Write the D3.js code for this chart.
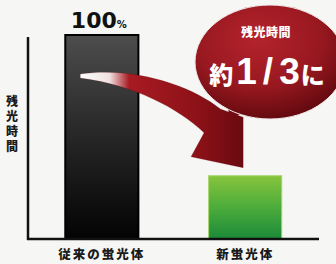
<!DOCTYPE html>
<html><head><meta charset="utf-8">
<script src="https://cdn.jsdelivr.net/npm/d3@7"></script>
<style>
html,body{margin:0;padding:0;background:#f6f6f4;}
svg{display:block;}
text{font-family:"Noto Sans CJK JP","Noto Sans",sans-serif;}
</style></head>
<body>
<script>
const categories = ["従来の蛍光体", "新蛍光体"];
const values = [100, 31];
const valueLabels = ["100", ""];
const yAxisLabel = "残光時間";
const bubbleTitle = "残光時間";
const bubbleMain = ["約", "1/3", "に"];

const W = 336, H = 264;
const svg = d3.select("body").append("svg").attr("width", W).attr("height", H);
svg.append("rect").attr("width", W).attr("height", H).attr("fill", "#f6f6f4");

const defs = svg.append("defs");
const g1 = defs.append("linearGradient").attr("id", "gBlack").attr("x1", 0).attr("y1", 0).attr("x2", 0).attr("y2", 1);
g1.append("stop").attr("offset", "0%").attr("stop-color", "#4d4d4d");
g1.append("stop").attr("offset", "45%").attr("stop-color", "#2a2a2a");
g1.append("stop").attr("offset", "100%").attr("stop-color", "#030303");
const g2 = defs.append("linearGradient").attr("id", "gGreen").attr("x1", 0).attr("y1", 0).attr("x2", 0).attr("y2", 1);
g2.append("stop").attr("offset", "0%").attr("stop-color", "#86c43c");
g2.append("stop").attr("offset", "50%").attr("stop-color", "#4cac3b");
g2.append("stop").attr("offset", "100%").attr("stop-color", "#1b8a38");
const gr = defs.append("radialGradient").attr("id", "gRed").attr("cx", "42%").attr("cy", "30%").attr("r", "70%");
gr.append("stop").attr("offset", "0%").attr("stop-color", "#b4232c");
gr.append("stop").attr("offset", "60%").attr("stop-color", "#981820");
gr.append("stop").attr("offset", "100%").attr("stop-color", "#650a10");
const ga = defs.append("linearGradient").attr("id", "gArrow").attr("x1", 0).attr("y1", 0).attr("x2", 1).attr("y2", 0);
ga.append("stop").attr("offset", "0%").attr("stop-color", "#ffffff");
ga.append("stop").attr("offset", "18%").attr("stop-color", "#f0e0e0");
ga.append("stop").attr("offset", "30%").attr("stop-color", "#a81a22");
ga.append("stop").attr("offset", "70%").attr("stop-color", "#8e1218");
ga.append("stop").attr("offset", "100%").attr("stop-color", "#6a0a10");

const x0 = 28, x1 = 319, yBase = 239, yTop = 35;
const x = d3.scaleBand().domain(categories).range([x0, x1]).paddingInner(0.49).paddingOuter(0.26);
const y = d3.scaleLinear().domain([0, 100]).range([yBase, yTop]);

// bars
const fills = ["url(#gBlack)", "url(#gGreen)"];
const strokes = ["#000", "#a6d46a"];
svg.selectAll("rect.bar").data(categories).enter().append("rect")
  .attr("class", "bar")
  .attr("x", d => x(d)).attr("width", x.bandwidth())
  .attr("y", (d, i) => y(values[i])).attr("height", (d, i) => yBase - y(values[i]))
  .attr("fill", (d, i) => fills[i])
  .attr("stroke", (d, i) => strokes[i]).attr("stroke-width", (d, i) => i === 0 ? 2 : 1);

// axes
svg.append("line").attr("x1", x0).attr("x2", x0).attr("y1", y(99)).attr("y2", yBase + 1)
  .attr("stroke", "#111").attr("stroke-width", 2.5);
svg.append("line").attr("x1", x0 - 1).attr("x2", x1).attr("y1", yBase).attr("y2", yBase)
  .attr("stroke", "#111").attr("stroke-width", 2.5);

// value label
const c0 = x(categories[0]) + x.bandwidth() / 2;
const vl = svg.append("text").attr("x", c0 - 3).attr("y", y(values[0]) - 7).attr("text-anchor", "middle")
  .style("font-family", "'DejaVu Sans',sans-serif").style("font-weight", 700).attr("fill", "#111");
vl.append("tspan").attr("font-size", 22).text(valueLabels[0]);
vl.append("tspan").attr("font-size", 10).text("%");

// category labels
svg.selectAll("text.cat").data(categories).enter().append("text")
  .attr("class", "cat")
  .attr("x", d => x(d) + x.bandwidth() / 2).attr("y", 259)
  .attr("text-anchor", "middle").attr("font-size", 12.5).attr("font-weight", 900)
  .attr("letter-spacing", 2).attr("fill", "#1a1a1a").text(d => d);

// y axis label (vertical)
svg.append("text").attr("x", 12).attr("y", 95)
  .style("writing-mode", "vertical-rl").style("text-orientation", "upright")
  .attr("font-size", 12).attr("font-weight", 900).attr("letter-spacing", 3)
  .attr("fill", "#1a1a1a").text(yAxisLabel);

// bubble
const bx = 270, by = 62;
svg.append("path")
  .attr("d", `M${bx - 42},${by + 46} L${bx - 40},${by + 58} L${bx - 30},${by + 52} Z`)
  .attr("fill", "#7a0d13");
svg.append("ellipse").attr("cx", bx).attr("cy", by).attr("rx", 75).attr("ry", 57)
  .attr("fill", "url(#gRed)").attr("stroke", "#f0e8e8").attr("stroke-width", 1);
svg.append("text").attr("x", bx - 4).attr("y", by - 25).attr("text-anchor", "middle")
  .attr("font-size", 12).attr("font-weight", 900).attr("fill", "#fff").attr("letter-spacing", 0.5).text(bubbleTitle);
const bm = svg.append("text").attr("x", 267).attr("y", by + 22).attr("text-anchor", "middle").attr("fill", "#fff")
  .attr("font-weight", 900);
bm.append("tspan").attr("font-size", 24).text(bubbleMain[0]);
bm.append("tspan").attr("font-size", 37).attr("dx", 3)
  .style("font-family", "'Liberation Sans',Arial,sans-serif").style("font-weight", 700).text(bubbleMain[1][0]);
bm.append("tspan").attr("font-size", 37).attr("dx", 6)
  .style("font-family", "'Liberation Sans',Arial,sans-serif").style("font-weight", 700).text(bubbleMain[1][1]);
bm.append("tspan").attr("font-size", 37).attr("dx", 6)
  .style("font-family", "'Liberation Sans',Arial,sans-serif").style("font-weight", 700).text(bubbleMain[1][2]);
bm.append("tspan").attr("font-size", 24).attr("dx", 1).text(bubbleMain[2]);

// arrow from bar1 to bar2, anchored on scale positions
const S = [x(categories[0]) + 15, y(80)];
const T = [x(categories[1]) + x.bandwidth() / 2 - 2, y(values[1]) - 8];
const dx = T[0] - S[0], dy = T[1] - S[1];
const P = (u, v) => [S[0] + u * dx, S[1] + v * dy];
const pts = {
  st: P(0, -0.02), c1: P(0.34, -0.1), c2: P(0.68, 0.11), hb: P(0.86, 0.36),
  rw: P(1.0, 0.45), tip: P(1, 1), lw: P(0.68, 0.88), bb: P(0.76, 0.62),
  c3: P(0.6, 0.35), c4: P(0.33, 0.1), sb: P(0, 0.025)
};
const f = p => p.join(",");
svg.append("path")
  .attr("d", `M${f(pts.st)} C${f(pts.c1)} ${f(pts.c2)} ${f(pts.hb)} L${f(pts.rw)} L${f(pts.tip)} L${f(pts.lw)} L${f(pts.bb)} C${f(pts.c3)} ${f(pts.c4)} ${f(pts.sb)} Z`)
  .attr("fill", "url(#gArrow)").attr("stroke", "#5a080c").attr("stroke-width", 0.5).attr("stroke-opacity", 0.4);
</script>
</body></html>
